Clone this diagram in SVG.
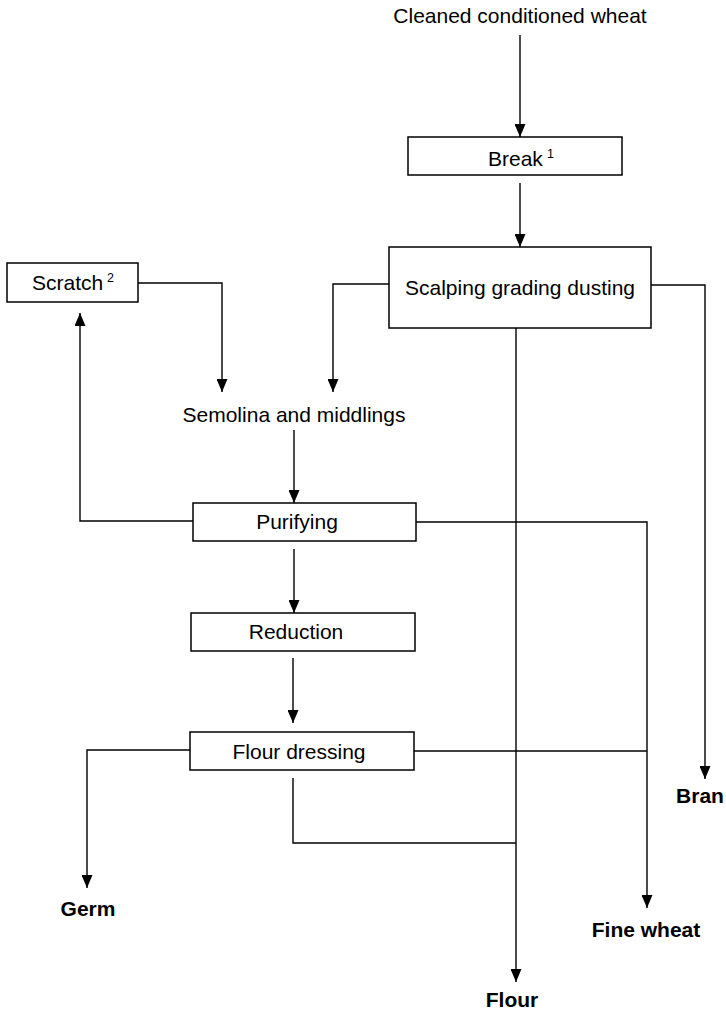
<svg xmlns="http://www.w3.org/2000/svg" width="726" height="1011" viewBox="0 0 726 1011">
<style>
  .box { fill: #ffffff; stroke: #000000; stroke-width: 1.5; }
  .t { font-family: "Liberation Sans", Arial, sans-serif; font-size: 21px; fill: #000000; }
  .b { font-family: "Liberation Sans", Arial, sans-serif; font-size: 21px; font-weight: bold; fill: #000000; }
  .sup { font-family: "Liberation Sans", Arial, sans-serif; font-size: 12.5px; fill: #000000; }
  .c { fill: none; stroke: #000000; stroke-width: 1.4; }
  .ca { fill: none; stroke: #000000; stroke-width: 1.4; marker-end: url(#arr); }
</style>
<defs>
  <marker id="arr" markerUnits="userSpaceOnUse" markerWidth="13" markerHeight="11" viewBox="0 0 13 11" refX="13" refY="5.5" orient="auto">
    <path d="M0,0 L13,5.5 L0,11 Z" fill="#000000"/>
  </marker>
</defs>
<rect width="726" height="1011" fill="#ffffff"/>

<g id="connectors">
  <line class="ca" x1="520" y1="35" x2="520" y2="137"/>
  <line class="ca" x1="520" y1="183" x2="520" y2="247"/>
  <polyline class="ca" points="389,284 333,284 333,392"/>
  <polyline class="ca" points="138,283 222,283 222,392"/>
  <polyline class="ca" points="651,285 705,285 705,779"/>
  <line class="ca" x1="516" y1="328" x2="516" y2="982"/>
  <line class="ca" x1="294" y1="430" x2="294" y2="503"/>
  <polyline class="ca" points="193,521 80,521 80,313"/>
  <polyline class="ca" points="416,522 647,522 647,908"/>
  <line class="ca" x1="294" y1="549" x2="294" y2="613"/>
  <line class="ca" x1="293" y1="658" x2="293" y2="723"/>
  <polyline class="ca" points="190,750 87,750 87,888"/>
  <line class="c" x1="414" y1="751" x2="647" y2="751"/>
  <polyline class="c" points="293,778 293,843 516,843"/>
</g>

<g id="node-input">
  <text class="t" x="520" y="23" text-anchor="middle">Cleaned conditioned wheat</text>
</g>
<g id="node-break">
  <rect class="box" x="408" y="137" width="214" height="38"/>
  <text class="t" x="488" y="166">Break</text>
  <text class="sup" x="547" y="158">1</text>
</g>
<g id="node-scalping">
  <rect class="box" x="389" y="247" width="262" height="81"/>
  <text class="t" x="520" y="295" text-anchor="middle">Scalping grading dusting</text>
</g>
<g id="node-scratch">
  <rect class="box" x="7" y="263" width="131" height="39"/>
  <text class="t" x="32" y="290">Scratch</text>
  <text class="sup" x="107" y="282">2</text>
</g>
<g id="node-semolina">
  <text class="t" x="294" y="422" text-anchor="middle">Semolina and middlings</text>
</g>
<g id="node-purifying">
  <rect class="box" x="193" y="503" width="223" height="38"/>
  <text class="t" x="297" y="529" text-anchor="middle">Purifying</text>
</g>
<g id="node-reduction">
  <rect class="box" x="191" y="613" width="224" height="38"/>
  <text class="t" x="296" y="639" text-anchor="middle">Reduction</text>
</g>
<g id="node-flour-dressing">
  <rect class="box" x="190" y="732" width="224" height="38"/>
  <text class="t" x="299" y="759" text-anchor="middle">Flour dressing</text>
</g>
<g id="node-bran">
  <text class="b" x="700" y="803" text-anchor="middle">Bran</text>
</g>
<g id="node-germ">
  <text class="b" x="88" y="916" text-anchor="middle">Germ</text>
</g>
<g id="node-fine-wheat">
  <text class="b" x="646" y="937" text-anchor="middle">Fine wheat</text>
</g>
<g id="node-flour">
  <text class="b" x="512" y="1007" text-anchor="middle">Flour</text>
</g>
</svg>
